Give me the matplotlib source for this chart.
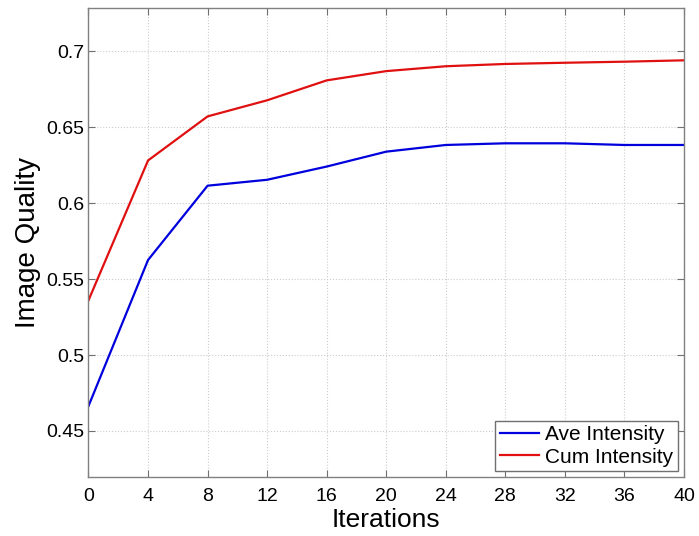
import matplotlib
matplotlib.use("Agg")
import matplotlib.pyplot as plt

iterations = [0, 4, 8, 12, 16, 20, 24, 28, 32, 36, 40]
ave_intensity = [0.4664, 0.5625, 0.6114, 0.6153, 0.6240, 0.6338, 0.6382, 0.6393, 0.6393, 0.6382, 0.6382]
cum_intensity = [0.5360, 0.6280, 0.6570, 0.6676, 0.6807, 0.6868, 0.6900, 0.6915, 0.6923, 0.6930, 0.6939]
x_ticks = [0, 4, 8, 12, 16, 20, 24, 28, 32, 36, 40]
y_ticks = [0.45, 0.5, 0.55, 0.6, 0.65, 0.7]
y_tick_labels = ["0.45", "0.5", "0.55", "0.6", "0.65", "0.7"]

plt.rcParams['font.family'] = ['Liberation Sans', 'DejaVu Sans']

fig = plt.figure(figsize=(6.99, 5.36), dpi=100)
ax = fig.add_axes([0.1266, 0.110, 0.8519, 0.875])

ax.plot(iterations, ave_intensity, color='#0000dd', lw=1.6, label='Ave Intensity')
ax.plot(iterations, cum_intensity, color='#e01010', lw=1.6, label='Cum Intensity')

ax.set_xlim(0, 40)
ax.set_ylim(0.4197, 0.7283)
ax.set_xticks(x_ticks)
ax.set_yticks(y_ticks)
ax.set_yticklabels(y_tick_labels)
ax.tick_params(direction='in', top=True, right=True, length=5, width=0.8,
               color='#707070', labelsize=14)
ax.tick_params(axis='x', pad=8)
ax.tick_params(axis='y', pad=3)
for s in ax.spines.values():
    s.set_color('#808080')
    s.set_linewidth(1.0)
ax.grid(True, color='#cccccc', linestyle=':', linewidth=0.8)

ax.set_xlabel('Iterations', fontsize=19, labelpad=2)
ax.set_ylabel('Image Quality', fontsize=20, labelpad=4)

leg = ax.legend(loc='lower right', fontsize=15, fancybox=False, framealpha=1,
                edgecolor='#707070', borderaxespad=0.3, handlelength=1.9,
                labelspacing=0.15, borderpad=0.2, handletextpad=0.3)
leg.get_frame().set_linewidth(1.0)

fig.savefig('out.png', dpi=100)
